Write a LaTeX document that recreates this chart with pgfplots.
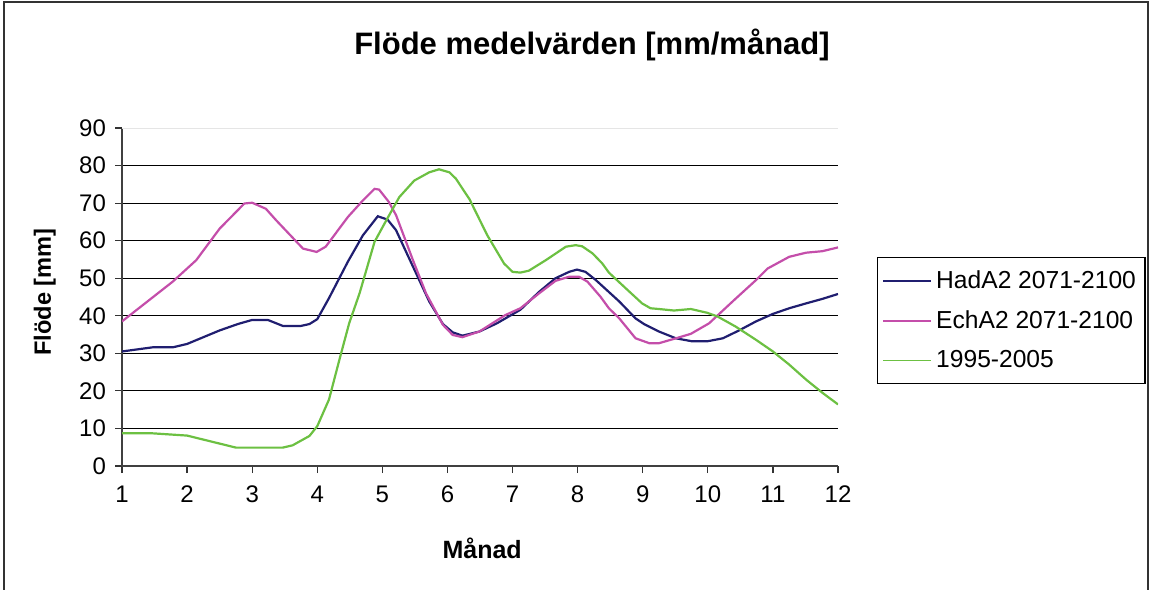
\documentclass[border=0pt]{standalone}
\usepackage{fontspec}
\setmainfont{Liberation Sans}
\usepackage{pgfplots}
\pgfplotsset{compat=1.18}
\definecolor{hadc}{RGB}{32,30,112}
\definecolor{echc}{RGB}{196,78,170}
\definecolor{obsc}{RGB}{108,192,66}
\begin{document}
\begin{tikzpicture}[x=1pt,y=1pt]
\useasboundingbox (-61,-61.5) rectangle (514,233);
\begin{axis}[
  at={(0pt,0pt)}, anchor=south west,
  scale only axis, width=358pt, height=169pt,
  xmin=1, xmax=12, ymin=0, ymax=90,
  xtick={1,...,12}, ytick={0,10,...,80},
  extra y ticks={90},
  extra y tick style={major grid style={black!10, line width=0.5pt}},
  axis x line*=bottom, axis y line*=left,
  tick align=outside, major tick length=3.5pt,
  ymajorgrids, major grid style={black, line width=0.5pt},
  tick style={black!80, line width=0.6pt},
  axis line style={black!75, line width=0.7pt},
  /pgf/number format/assume math mode=true,
  ticklabel style={font=\fontsize{12}{14}\selectfont},
  xticklabel style={yshift=-3pt},
  yticklabel style={xshift=-1pt},
  xlabel={Månad}, ylabel={Flöde [mm]},
  xlabel style={font=\bfseries\fontsize{12.5}{15}\selectfont, at={(axis description cs:0.503,-0.243)}, anchor=center},
  ylabel style={font=\bfseries\fontsize{11.8}{14}\selectfont, at={(axis description cs:-0.108,0.515)}, anchor=center},
  legend style={at={(axis description cs:1.0545,0.618)}, anchor=north west,
    draw=black, line width=0.6pt, font=\fontsize{12.3}{15}\selectfont,
    inner xsep=2.5pt, inner ysep=4.5pt, row sep=5.5pt},
  legend cell align=left,
  legend image code/.code={\draw[#1, line width=0.8pt] (0pt,0pt) -- (24pt,0pt);},
  every axis plot/.append style={line width=1.1pt},
]
\addplot[hadc] coordinates {
(1,30.5)(1.47,31.6)(1.78,31.6)(2.0,32.5)(2.5,36.1)(2.78,37.8)(3.0,38.9)(3.24,38.9)
(3.47,37.3)(3.75,37.3)(3.88,37.8)(4.0,39.1)(4.18,44.7)(4.47,54.4)(4.7,61.4)(4.93,66.5)
(5.08,65.6)(5.21,62.8)(5.47,53.1)(5.72,43.8)(5.93,37.8)(6.08,35.6)(6.23,34.7)(6.49,35.8)
(6.76,38.0)(7.12,41.6)(7.41,46.4)(7.66,50.0)(7.87,51.7)(7.99,52.3)(8.12,51.7)(8.28,49.5)
(8.64,43.8)(8.89,39.3)(9.02,37.8)(9.25,35.8)(9.51,34.0)(9.76,33.2)(9.99,33.2)(10.23,34.0)
(10.48,36.1)(10.74,38.5)(11.0,40.5)(11.25,42.0)(11.51,43.3)(11.76,44.5)(12,45.8)
};
\addlegendentry{HadA2 2071-2100}
\addplot[echc] coordinates {
(1,38.5)(1.78,49.1)(2.14,54.8)(2.5,63.2)(2.88,69.9)(3.0,70.1)(3.21,68.5)(3.37,65.4)
(3.78,57.9)(3.99,57.0)(4.13,58.4)(4.47,66.3)(4.7,70.7)(4.88,73.8)(4.95,73.6)(5.1,70.3)
(5.21,66.8)(5.47,54.8)(5.67,46.0)(5.93,37.6)(6.08,34.9)(6.23,34.3)(6.49,35.8)(6.89,40.2)
(7.12,42.0)(7.41,46.0)(7.66,49.3)(7.87,50.4)(8.02,50.4)(8.15,49.1)(8.35,45.1)(8.48,42.0)
(8.64,39.3)(8.89,34.0)(9.1,32.7)(9.25,32.7)(9.51,34.0)(9.74,35.2)(10.02,38.0)(10.43,44.6)
(10.74,49.5)(10.92,52.6)(11.25,55.7)(11.51,56.8)(11.76,57.2)(12,58.2)
};
\addlegendentry{EchA2 2071-2100}
\addplot[obsc] coordinates {
(1,8.7)(1.47,8.7)(2.0,8.1)(2.75,4.9)(3.47,4.9)(3.62,5.5)(3.88,8.0)(4.0,10.6)
(4.18,17.7)(4.34,28.3)(4.49,38.0)(4.65,46.0)(4.88,59.7)(5.06,65.4)(5.26,71.6)(5.49,76.0)
(5.72,78.2)(5.87,79.0)(6.03,78.2)(6.13,76.5)(6.34,71.0)(6.61,61.5)(6.87,53.9)(7.0,51.7)
(7.12,51.5)(7.25,52.0)(7.51,54.8)(7.82,58.4)(7.97,58.8)(8.07,58.5)(8.23,56.6)(8.38,53.9)
(8.48,51.5)(8.74,47.3)(8.99,43.3)(9.12,42.0)(9.25,41.8)(9.48,41.4)(9.74,41.8)(9.99,40.8)
(10.15,39.8)(10.43,37.1)(10.74,33.6)(11.0,30.5)(11.25,27.0)(11.51,23.0)(11.76,19.5)(12,16.4)
};
\addlegendentry{1995-2005}
\end{axis}
\node[font=\bfseries\fontsize{15.5}{18}\selectfont] at (235,210.5) {Flöde medelvärden [mm/månad]};
\draw[black!80, line width=0.8pt] (-59,-62) -- (-59,232) -- (513,232) -- (513,-62);
\end{tikzpicture}
\end{document}
